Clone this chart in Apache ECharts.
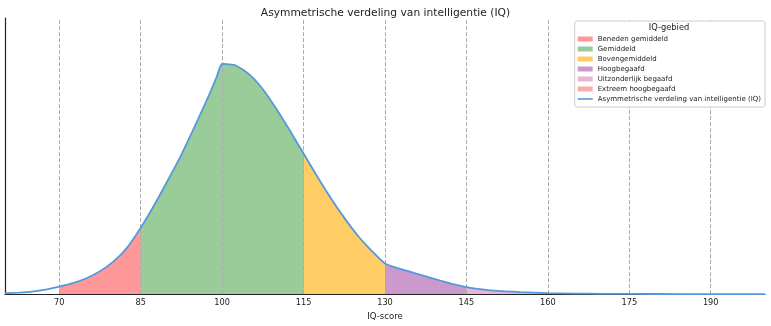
<!DOCTYPE html>
<html><head><meta charset="utf-8">
<script src="https://cdn.jsdelivr.net/npm/echarts@6/dist/echarts.min.js"></script>
<style>html,body{margin:0;padding:0;background:#fff}#c{width:771px;height:326px}</style>
</head><body><div id="c"></div>
<script>
const iqX = [60,62.5,65,67.5,70,72.5,75,77.5,80,82.5,85,87.5,90,92.5,95,97.5,99,100,101,102.5,105,107.5,110,112.5,115,117.5,120,122.5,125,127.5,130,132.5,135,137.5,140,142.5,145,147.5,150,155,160,165,170,180,190,200];
const density = [0.8,1.5,2.5,4.5,7.5,11,16,23,33,47,67,90,115,141,170,200,219.5,232.5,232.3,231,222,207,187,165,142,119,97,77,59,44,31,26,22,18,14,10,7,5,3.5,2,1,0.5,0.3,0.1,0,0];
const tickValues = [70,85,100,115,130,145,160,175,190];
const regionNames = ['Beneden gemiddeld','Gemiddeld','Bovengemiddeld','Hoogbegaafd','Uitzonderlijk begaafd','Extreem hoogbegaafd'];
const regionStart = [70,85,115,130,145,160];
const regionEnd = [85,115,130,145,160,200];
const regionColors = ['#ff9999','#99cc99','#ffcc66','#cc99cc','#e8b4d8','#ffaaaa'];
const curveName = 'Asymmetrische verdeling van intelligentie (IQ)';
const FONT = 'DejaVu Sans';
const SMOOTH = 0.25;

const pts = iqX.map((x,i)=>[x,density[i]]);
const series = [{
  type:'line', symbol:'none', silent:true, z:2, smooth:SMOOTH,
  lineStyle:{width:0}, areaStyle:{opacity:1}, data:pts
}];
regionNames.forEach((n,k)=>series.push({name:n, type:'line', symbol:'none', color:regionColors[k], data:[]}));
series.push({
  name:curveName, type:'line', symbol:'none', z:5, color:'#5599dd', smooth:SMOOTH,
  lineStyle:{width:1.8,color:'#5599dd'},
  data: pts,
  markLine:{silent:true, symbol:'none', label:{show:false},
    lineStyle:{color:'#aaaaaa', type:[4,2], width:1},
    data: tickValues.map(v=>({xAxis:v}))}
});

const chart = echarts.init(document.getElementById('c'), null, {renderer:'canvas'});
chart.setOption({
  animation:false,
  textStyle:{fontFamily:FONT},
  title:{text:'Asymmetrische verdeling van intelligentie (IQ)', left:'center', top:3,
    textStyle:{fontFamily:FONT, fontSize:10.7, fontWeight:'normal', color:'#222'}},
  grid:{left:5, right:6, top:18, bottom:29, containLabel:false},
  visualMap:{show:false, type:'piecewise', seriesIndex:0, dimension:0,
    pieces: regionNames.map((n,k)=>(k<regionNames.length-1
      ? {gte:regionStart[k], lt:regionEnd[k], color:regionColors[k]}
      : {gte:regionStart[k], lte:regionEnd[k], color:regionColors[k]})),
    outOfRange:{color:'rgba(255,255,255,0)'}},
  xAxis:{type:'value', min:60, max:200, name:'IQ-score', nameLocation:'middle', nameGap:16,
    nameTextStyle:{fontFamily:FONT, fontSize:8.5, color:'#222'},
    axisLine:{lineStyle:{color:'#222', width:1.2}},
    axisTick:{show:false},
    axisLabel:{customValues:tickValues, fontFamily:FONT, fontSize:8.2, color:'#222', margin:5},
    splitLine:{show:false}},
  yAxis:{type:'value', min:0, max:279, axisLine:{show:true, lineStyle:{color:'#222', width:1.2}},
    axisTick:{show:false}, axisLabel:{show:false}, splitLine:{show:false}},
  legend:{orient:'vertical', right:6, top:21, padding:[13,4,3,3], itemGap:0, z:20,
    borderColor:'#cccccc', borderWidth:1, borderRadius:2, backgroundColor:'#fff',
    itemWidth:15, itemHeight:5,
    textStyle:{fontFamily:FONT, fontSize:7, color:'#222', lineHeight:10},
    data: regionNames.map(n=>({name:n, icon:'rect'})).concat([{name:curveName, icon:'path://M0,0 H15 V1.6 H0 Z'}])},
  graphic:[{type:'text', x:669, y:28, z:100,
    style:{text:'IQ-gebied', fontFamily:FONT, fontSize:8.3, fill:'#222', textAlign:'center', textVerticalAlign:'middle'}}],
  series: series
});
</script></body></html>
